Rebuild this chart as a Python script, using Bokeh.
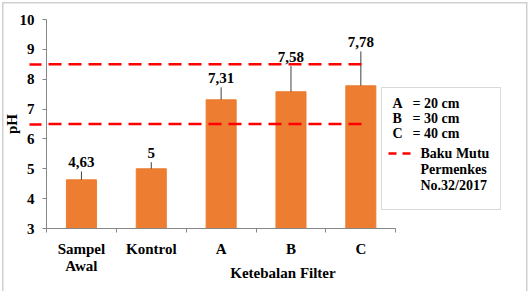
from bokeh.plotting import figure
from bokeh.models import (Range1d, FixedTicker, Label, BoxAnnotation, Arrow)
from bokeh.core.properties import value
from bokeh.embed import file_html
from bokeh.resources import INLINE

# ---- data ----
categories = ["Sampel Awal", "Kontrol", "A", "B", "C"]
tick_labels = ["Sampel\nAwal", "Kontrol", "A", "B", "C"]
ph_values = [4.63, 5.0, 7.31, 7.58, 7.78]
ph_errors = [0.28, 0.22, 0.42, 0.86, 1.15]
y_ticks = [3, 4, 5, 6, 7, 8, 9, 10]
baku_mutu = [6.5, 8.5]
filter_names = ["A", "B", "C"]
filter_cm = [20, 30, 40]
standard_lines = ["Baku Mutu", "Permenkes", "No.32/2017"]
x_title = "Ketebalan Filter"
y_title = "pH"

FONT = "Liberation Serif"
BAR = "#ED7D31"
AXIS = "#868686"
BORDER = "#D0D0D0"
RED = "#FF0000"

n = len(categories)
xpos = [i + 0.5 for i in range(n)]          # category centres on a 0..n axis
value_labels = [f"{v:g}".replace(".", ",") for v in ph_values]
tops = [v + e for v, e in zip(ph_values, ph_errors)]

# frame runs from x=45 to x=519 (room for the legend); the axis itself covers 0..n
p = figure(width=532, height=291,
           x_range=Range1d(0, n * 474 / 350), y_range=Range1d(3, 10),
           output_backend="svg", toolbar_location=None,
           min_border_left=45, min_border_right=13,
           min_border_top=19, min_border_bottom=63)
p.outline_line_color = None
p.xgrid.visible = False
p.ygrid.visible = False
p.background_fill_alpha = 0
p.border_fill_alpha = 0
line = f"linear-gradient({BORDER},{BORDER})"
p.styles = {
    "background": (f"{line} 2px 2px / 1.5px 100% no-repeat, "
                   f"{line} 2px 2px / 525px 1.5px no-repeat, "
                   f"{line} 526px 2px / 1.5px 100% no-repeat, white"),
}

# y axis (minor ticks at the standard levels: first dash of the red lines, left of the axis)
ya = p.yaxis[0]
ya.ticker = FixedTicker(ticks=y_ticks, minor_ticks=baku_mutu)
ya.major_tick_in = 0
ya.major_tick_out = 4
ya.axis_line_color = AXIS
ya.major_tick_line_color = AXIS
ya.minor_tick_in = -5
ya.minor_tick_out = 17
ya.minor_tick_line_color = RED
ya.minor_tick_line_width = 2.5
ya.major_label_standoff = -5
ya.major_label_text_font = FONT
ya.major_label_text_font_style = "bold"
ya.major_label_text_font_size = "15px"
ya.major_label_text_color = "black"
ya.axis_label = y_title
ya.axis_label_text_font = FONT
ya.axis_label_text_font_style = "bold"
ya.axis_label_text_font_size = "15px"
ya.axis_label_text_color = "black"
ya.axis_label_standoff = -3

# x axis: labels at category centres, ticks between categories
xa = p.xaxis[0]
xa.bounds = (0, n)
xa.ticker = FixedTicker(ticks=xpos, minor_ticks=list(range(n + 1)))
xa.major_label_overrides = {x: lab for x, lab in zip(xpos, tick_labels)}
xa.axis_line_color = AXIS
xa.major_tick_line_color = None
xa.major_tick_out = 0
xa.major_tick_in = 0
xa.minor_tick_line_color = AXIS
xa.minor_tick_out = 4
xa.minor_tick_in = 0
xa.major_label_standoff = 8
xa.major_label_text_font = FONT
xa.major_label_text_font_style = "bold"
xa.major_label_text_font_size = "15px"
xa.major_label_text_color = "black"
xa.major_label_text_line_height = 1.1
xa.axis_label = x_title
xa.axis_label_text_font = FONT
xa.axis_label_text_font_style = "bold"
xa.axis_label_text_font_size = "15px"
xa.axis_label_text_color = "black"
xa.axis_label_standoff = -12

# bars
p.vbar(x=xpos, top=ph_values, bottom=0, width=0.43,
       fill_color=BAR, line_color=BAR)
# error bars (upper only)
p.segment(x0=xpos, y0=ph_values, x1=xpos, y1=tops,
          line_color="#404040", line_width=1)
# value labels
p.text(x=xpos, y=tops, text=value_labels, text_align="center",
       text_baseline="bottom", y_offset=-4,
       text_font=value(FONT), text_font_style="bold",
       text_font_size="15px", text_color="black")

# standard lines (inside the frame, above the bars)
p.segment(x0=[0] * len(baku_mutu), y0=baku_mutu, x1=[4.6] * len(baku_mutu), y1=baku_mutu,
          line_color=RED, line_width=2.5, line_dash="13 7", line_dash_offset=18)

# legend box
p.add_layout(BoxAnnotation(left=381, right=500, top=87, bottom=209,
                           left_units="canvas", right_units="canvas",
                           top_units="canvas", bottom_units="canvas",
                           fill_color="white", fill_alpha=1,
                           line_color="#808080", line_width=1))
for i, (nm, cm) in enumerate(zip(filter_names, filter_cm)):
    yy = 103 + i * 15
    p.add_layout(Label(x=392, y=yy, x_units="canvas", y_units="canvas", text=nm,
                       text_baseline="middle", text_font=FONT, text_font_style="bold",
                       text_font_size="14px", text_color="black"))
    p.add_layout(Label(x=412, y=yy, x_units="canvas", y_units="canvas", text=f"= {cm} cm",
                       text_baseline="middle", text_font=FONT, text_font_style="bold",
                       text_font_size="14px", text_color="black"))
p.add_layout(Arrow(end=None, x_start=388, y_start=153, x_end=410, y_end=153,
                   start_units="canvas", end_units="canvas",
                   line_color=RED, line_width=2.5, line_dash="8 6"))
for i, t in enumerate(standard_lines):
    p.add_layout(Label(x=420, y=153 + i * 16, x_units="canvas", y_units="canvas", text=t,
                       text_baseline="middle", text_font=FONT, text_font_style="bold",
                       text_font_size="14px", text_color="black"))

open("out.html", "w").write(file_html(p, INLINE))
